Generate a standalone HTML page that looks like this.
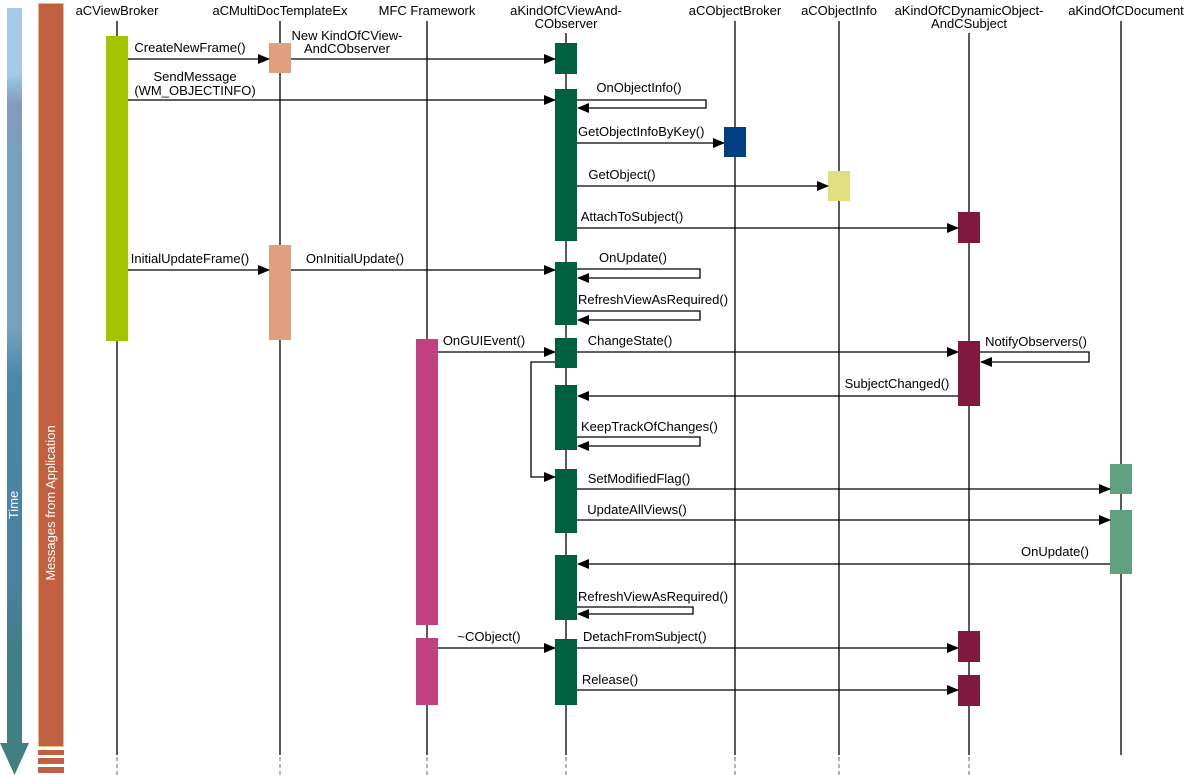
<!DOCTYPE html>
<html><head><meta charset="utf-8"><style>
html,body{margin:0;padding:0;background:#fff;}
svg{display:block;}
text{font-family:"Liberation Sans",sans-serif;font-size:13px;fill:#000;}
</style></head><body>
<svg width="1185" height="775" viewBox="0 0 1185 775" xmlns="http://www.w3.org/2000/svg">
<defs>
<marker id="a" markerWidth="12" markerHeight="10" refX="11" refY="5" orient="auto" markerUnits="userSpaceOnUse"><path d="M0,0 L12,5 L0,10 Z" fill="#000"/></marker>
<linearGradient id="tg" x1="0" y1="0" x2="0" y2="1">
<stop offset="0" stop-color="#a8c8e8"/><stop offset="0.09" stop-color="#a8c8e8"/>
<stop offset="0.1" stop-color="#90c0d8"/><stop offset="0.13" stop-color="#8898c0"/>
<stop offset="0.19" stop-color="#7aa0c0"/><stop offset="0.43" stop-color="#7aa0c0"/>
<stop offset="0.5" stop-color="#4a88a8"/><stop offset="0.78" stop-color="#4a80a0"/>
<stop offset="0.87" stop-color="#407e86"/><stop offset="1" stop-color="#408080"/>
</linearGradient>
</defs>
<rect x="7" y="8" width="15" height="740" fill="url(#tg)"/>
<path d="M0,743 L29,743 L14.5,775 Z" fill="#408080"/>
<text transform="translate(18,505) rotate(-90)" text-anchor="middle" style="fill:#fff">Time</text>
<rect x="38.5" y="3.5" width="25" height="743" fill="#c06040" stroke="#e0c080"/>
<rect x="38" y="750" width="26" height="5" fill="#c06040"/>
<rect x="38" y="758" width="26" height="6" fill="#c06040"/>
<rect x="38" y="767" width="26" height="6" fill="#c06040"/>
<text transform="translate(55,503) rotate(-90)" text-anchor="middle" style="fill:#fff">Messages from Application</text>
<g text-anchor="middle">
<text x="117" y="15">aCViewBroker</text>
<text x="280" y="15">aCMultiDocTemplateEx</text>
<text x="427" y="15">MFC Framework</text>
<text x="566" y="15">aKindOfCViewAnd-</text>
<text x="566" y="28">CObserver</text>
<text x="735" y="15">aCObjectBroker</text>
<text x="839" y="15">aCObjectInfo</text>
<text x="969" y="15">aKindOfCDynamicObject-</text>
<text x="969" y="28">AndCSubject</text>
<text x="1126" y="15">aKindOfCDocument</text>
</g>
<g stroke="#000" stroke-width="1.3">
<line x1="117" y1="21" x2="117" y2="755"/>
<line x1="280" y1="21" x2="280" y2="755"/>
<line x1="427" y1="21" x2="427" y2="755"/>
<line x1="566" y1="33" x2="566" y2="755"/>
<line x1="735" y1="21" x2="735" y2="755"/>
<line x1="839" y1="21" x2="839" y2="755"/>
<line x1="969" y1="33" x2="969" y2="755"/>
<line x1="1121" y1="21" x2="1121" y2="755"/>
</g>
<g stroke="#888" stroke-width="1.3" stroke-dasharray="4,3">
<line x1="117" y1="757" x2="117" y2="775"/><line x1="280" y1="757" x2="280" y2="775"/>
<line x1="427" y1="757" x2="427" y2="775"/><line x1="566" y1="757" x2="566" y2="775"/>
<line x1="735" y1="757" x2="735" y2="775"/><line x1="839" y1="757" x2="839" y2="775"/>
<line x1="969" y1="757" x2="969" y2="775"/>
</g>
<rect x="106" y="36" width="22" height="305" fill="#a4c400"/>
<rect x="269" y="43" width="22" height="30" fill="#e0a07f"/>
<rect x="269" y="245" width="22" height="95" fill="#e0a07f"/>
<rect x="416" y="339" width="22" height="286" fill="#c04080"/>
<rect x="416" y="638" width="22" height="67" fill="#c04080"/>
<g fill="#006040">
<rect x="555" y="43" width="22" height="31"/><rect x="555" y="89" width="22" height="152"/>
<rect x="555" y="262" width="22" height="63"/><rect x="555" y="338" width="22" height="30"/>
<rect x="555" y="385" width="22" height="65"/><rect x="555" y="469" width="22" height="64"/>
<rect x="555" y="555" width="22" height="65"/><rect x="555" y="639" width="22" height="66"/>
</g>
<rect x="724" y="127" width="22" height="30" fill="#004080"/>
<rect x="828" y="171" width="22" height="30" fill="#e0e080"/>
<g fill="#801840">
<rect x="958" y="212" width="22" height="31"/><rect x="958" y="341" width="22" height="65"/>
<rect x="958" y="631" width="22" height="31"/><rect x="958" y="675" width="22" height="31"/>
</g>
<rect x="1110" y="464" width="22" height="30" fill="#60a080"/>
<rect x="1110" y="510" width="22" height="64" fill="#60a080"/>
<g stroke="#000" stroke-width="1.3" fill="none" marker-end="url(#a)">
<line x1="128" y1="59" x2="269" y2="59"/>
<line x1="291" y1="59" x2="555" y2="59"/>
<line x1="128" y1="100" x2="555" y2="100"/>
<polyline points="577,100 706,100 706,108 578,108"/>
<line x1="577" y1="143" x2="724" y2="143"/>
<line x1="577" y1="186" x2="828" y2="186"/>
<line x1="577" y1="228" x2="958" y2="228"/>
<line x1="128" y1="270" x2="269" y2="270"/>
<line x1="291" y1="270" x2="555" y2="270"/>
<polyline points="577,269 700,269 700,278 578,278"/>
<polyline points="577,311 700,311 700,320 578,320"/>
<line x1="438" y1="352" x2="555" y2="352"/>
<line x1="577" y1="352" x2="958" y2="352"/>
<polyline points="980,352 1089,352 1089,362 981,362"/>
<polyline points="555,362 531,362 531,477 555,477"/>
<line x1="958" y1="396" x2="578" y2="396"/>
<polyline points="577,437 700,437 700,446 578,446"/>
<line x1="577" y1="489" x2="1110" y2="489"/>
<line x1="577" y1="520" x2="1110" y2="520"/>
<line x1="1110" y1="564" x2="578" y2="564"/>
<polyline points="577,607 693,607 693,614 578,614"/>
<line x1="438" y1="648" x2="555" y2="648"/>
<line x1="577" y1="648" x2="958" y2="648"/>
<line x1="577" y1="690" x2="958" y2="690"/>
</g>
<g text-anchor="middle">
<text x="190" y="52">CreateNewFrame()</text>
<text x="347" y="40">New KindOfCView-</text>
<text x="347" y="53">AndCObserver</text>
<text x="195" y="81">SendMessage</text>
<text x="195" y="95">(WM_OBJECTINFO)</text>
<text x="639" y="92">OnObjectInfo()</text>
<text x="622" y="179">GetObject()</text>
<text x="632" y="221">AttachToSubject()</text>
<text x="190" y="263">InitialUpdateFrame()</text>
<text x="355" y="263">OnInitialUpdate()</text>
<text x="633" y="262">OnUpdate()</text>
<text x="484" y="345">OnGUIEvent()</text>
<text x="630" y="345">ChangeState()</text>
<text x="1036" y="346">NotifyObservers()</text>
<text x="897" y="388">SubjectChanged()</text>
<text x="639" y="483">SetModifiedFlag()</text>
<text x="637" y="514">UpdateAllViews()</text>
<text x="1055" y="556">OnUpdate()</text>
<text x="489" y="641">~CObject()</text>
<text x="610" y="684">Release()</text>
</g>
<g text-anchor="start">
<text x="578" y="136">GetObjectInfoByKey()</text>
<text x="578" y="304">RefreshViewAsRequired()</text>
<text x="581" y="431">KeepTrackOfChanges()</text>
<text x="578" y="601">RefreshViewAsRequired()</text>
<text x="583" y="641">DetachFromSubject()</text>
</g>
</svg>
</body></html>
